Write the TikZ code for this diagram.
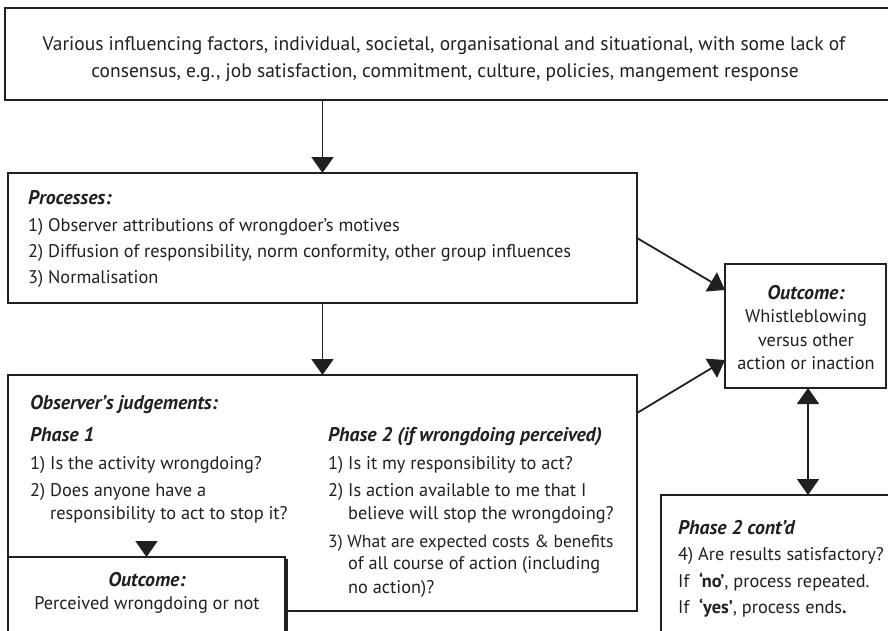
\documentclass[tikz,border=0pt]{standalone}
\usepackage{fontspec}
\setmainfont{PT Sans}
\usetikzlibrary{arrows.meta}
\definecolor{ink}{HTML}{231F20}
\begin{document}
\begin{tikzpicture}[x=1pt,y=-1pt,
  >={Triangle[length=16pt,width=22pt]},
  box/.style={draw=ink, line width=1.8pt, fill=white, rectangle, inner sep=0pt,
    outer sep=0pt, anchor=north west},
  txt/.style={anchor=base west, inner sep=0pt, text=ink,
    font=\fontsize{18.3}{22}\selectfont},
  ctxt/.style={txt, anchor=base},
  big/.style={ctxt, font=\fontsize{19.5}{23}\selectfont},
  head/.style={txt, font=\fontsize{19.8}{23}\selectfont\bfseries\itshape},
  chead/.style={head, anchor=base},
  arr/.style={draw=ink, line width=1.8pt, ->},
  darr/.style={draw=ink, line width=1.8pt, <->}
]
\useasboundingbox (0,0) rectangle (888,630);

% boxes
\node[box, minimum width=895pt, minimum height=92pt] (factors) at (5,8) {};
\node[box, minimum width=629pt, minimum height=130pt] (proc) at (8,173) {};
\node[box, minimum width=629pt, minimum height=236pt] (judge) at (8,375) {};
\node[box, minimum width=161pt, minimum height=124pt] (whistle) at (725,264) {};
\node[box, minimum width=250pt, minimum height=150pt] (cont) at (661,495) {};
% left outcome box with a dark edge on its right side
\node[box, minimum width=277pt, minimum height=100pt] (perceived) at (8,557) {};
\draw[ink, line width=1.6pt] ([xshift=1.7pt,yshift=-2pt]perceived.north east)
  -- ([xshift=1.7pt]perceived.south east);

% connectors
\draw[arr] (proc.north |- factors.south) -- (proc.north);
\draw[arr] (proc.south) -- (judge.north);
\draw[arr] (proc.east) -- ([yshift=36pt]whistle.west);
\draw[arr] ([yshift=-38pt]judge.north east) -- ([yshift=-34pt]whistle.west);
\coordinate (jtail) at ([yshift=16pt]perceived.north);
\draw[arr] (jtail) -- (perceived.north);
\coordinate (dx) at (808,0);
\draw[darr] (whistle.south -| dx) -- (cont.north -| dx);

% influencing factors
\node[big] (f1) at (444,50) {Various influencing factors, individual, societal, organisational and situational, with some lack of};
\node[big] (f2) at (445,77) {consensus, e.g., job satisfaction, commitment, culture, policies, mangement response};

% processes
\node[head] (p0) at (28,204) {Processes:};
\node[txt] (p1) at (28,231) {1) Observer attributions of wrongdoer’s motives};
\node[txt] (p2) at (28,257) {2) Diffusion of responsibility, norm conformity, other group influences};
\node[txt] (p3) at (28,283) {3) Normalisation};

% observer's judgements, phase 1
\node[head] (j0) at (30,409) {Observer’s judgements:};
\node[head] (a0) at (30,441) {Phase 1};
\node[txt] (a1) at (30,469) {1) Is the activity wrongdoing?};
\node[txt] (a2) at (30,496) {2) Does anyone have a};
\node[txt] (a2b) at (50,519) {responsibility to act to stop it?};

% phase 2
\node[head] (b0) at (328,441) {Phase 2 (if wrongdoing perceived)};
\node[txt] (b1) at (328,469) {1) Is it my responsibility to act?};
\node[txt] (b2) at (328,496) {2) Is action available to me that I};
\node[txt] (b2b) at (348,519) {believe will stop the wrongdoing?};
\node[txt, font=\fontsize{17.6}{21}\selectfont] (b3) at (328,547) {3) What are expected costs \& benefits};
\node[txt] (b3b) at (348,569) {of all course of action (including};
\node[txt] (b3c) at (348,593) {no action)?};

% outcomes
\node[chead] (o0) at (147,586) {Outcome:};
\node[ctxt] (o1) at (147,609) {Perceived wrongdoing or not};
\node[chead] (w0) at (806,299) {Outcome:};
\node[ctxt] (w1) at (806,322) {Whistleblowing};
\node[ctxt] (w2) at (806,346) {versus other};
\node[ctxt] (w3) at (806,369) {action or inaction};

% phase 2 continued
\node[head] (c0) at (678,534) {Phase 2 cont’d};
\node[txt] (c1) at (678,560) {4) Are results satisfactory?};
\node[txt] (c2) at (678,587) {If\ \ \textbf{‘no’}, process repeated.};
\node[txt] (c3) at (678,613) {If\ \ \textbf{‘yes’}, process ends\textbf{.}};
\end{tikzpicture}
\end{document}
